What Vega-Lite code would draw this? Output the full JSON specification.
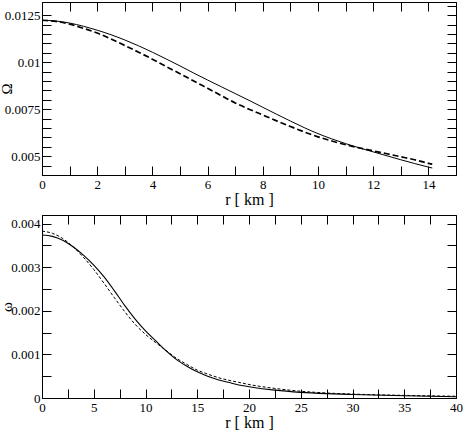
{
  "$schema": "https://vega.github.io/schema/vega-lite/v6.json",
  "padding": {"left": -2, "top": 1, "right": 6, "bottom": 2},
  "datasets": {
    "big": [
      {"s": "a", "r": 0, "v": 0.01223}, {"s": "a", "r": 0.5, "v": 0.01219}, {"s": "a", "r": 1, "v": 0.01208}, {"s": "a", "r": 1.5, "v": 0.01191},
      {"s": "a", "r": 2, "v": 0.0117}, {"s": "a", "r": 2.5, "v": 0.01146}, {"s": "a", "r": 3, "v": 0.01118}, {"s": "a", "r": 3.5, "v": 0.01087},
      {"s": "a", "r": 4, "v": 0.01053}, {"s": "a", "r": 4.5, "v": 0.01017}, {"s": "a", "r": 5, "v": 0.0098}, {"s": "a", "r": 5.5, "v": 0.00942},
      {"s": "a", "r": 6, "v": 0.00905}, {"s": "a", "r": 6.5, "v": 0.00869}, {"s": "a", "r": 7, "v": 0.00833}, {"s": "a", "r": 7.5, "v": 0.00797},
      {"s": "a", "r": 8, "v": 0.0076}, {"s": "a", "r": 8.5, "v": 0.00723}, {"s": "a", "r": 9, "v": 0.00687}, {"s": "a", "r": 9.5, "v": 0.00652},
      {"s": "a", "r": 10, "v": 0.0062}, {"s": "a", "r": 10.5, "v": 0.00592}, {"s": "a", "r": 11, "v": 0.00567}, {"s": "a", "r": 11.5, "v": 0.00544},
      {"s": "a", "r": 12, "v": 0.00523}, {"s": "a", "r": 12.5, "v": 0.00502}, {"s": "a", "r": 13, "v": 0.00481}, {"s": "a", "r": 13.5, "v": 0.00461},
      {"s": "a", "r": 14, "v": 0.00442}, {"s": "a", "r": 14.14, "v": 0.00437},
      {"s": "b", "r": 0, "v": 0.01223}, {"s": "b", "r": 0.5, "v": 0.01217}, {"s": "b", "r": 1, "v": 0.01202}, {"s": "b", "r": 1.5, "v": 0.0118},
      {"s": "b", "r": 2, "v": 0.01155}, {"s": "b", "r": 2.5, "v": 0.01123}, {"s": "b", "r": 3, "v": 0.01089}, {"s": "b", "r": 3.5, "v": 0.01053},
      {"s": "b", "r": 4, "v": 0.01016}, {"s": "b", "r": 4.5, "v": 0.00977}, {"s": "b", "r": 5, "v": 0.00939}, {"s": "b", "r": 5.5, "v": 0.009},
      {"s": "b", "r": 6, "v": 0.00861}, {"s": "b", "r": 6.5, "v": 0.00822}, {"s": "b", "r": 7, "v": 0.00783}, {"s": "b", "r": 7.5, "v": 0.0075},
      {"s": "b", "r": 8, "v": 0.00719}, {"s": "b", "r": 8.5, "v": 0.00688}, {"s": "b", "r": 9, "v": 0.00658}, {"s": "b", "r": 9.5, "v": 0.00629},
      {"s": "b", "r": 10, "v": 0.00603}, {"s": "b", "r": 10.5, "v": 0.00581}, {"s": "b", "r": 11, "v": 0.00561}, {"s": "b", "r": 11.5, "v": 0.00544},
      {"s": "b", "r": 12, "v": 0.00528}, {"s": "b", "r": 12.5, "v": 0.00513}, {"s": "b", "r": 13, "v": 0.00497}, {"s": "b", "r": 13.5, "v": 0.00481},
      {"s": "b", "r": 14, "v": 0.00462}, {"s": "b", "r": 14.14, "v": 0.00457}
    ],
    "small": [
      {"s": "a", "r": 0, "v": 0.00374}, {"s": "a", "r": 1, "v": 0.00371}, {"s": "a", "r": 2, "v": 0.00362}, {"s": "a", "r": 3, "v": 0.00347},
      {"s": "a", "r": 4, "v": 0.00328}, {"s": "a", "r": 5, "v": 0.00305}, {"s": "a", "r": 6, "v": 0.00278}, {"s": "a", "r": 7, "v": 0.00246},
      {"s": "a", "r": 8, "v": 0.00212}, {"s": "a", "r": 9, "v": 0.00181}, {"s": "a", "r": 10, "v": 0.00154}, {"s": "a", "r": 11, "v": 0.00131},
      {"s": "a", "r": 12, "v": 0.00108}, {"s": "a", "r": 13, "v": 0.00088}, {"s": "a", "r": 14, "v": 0.00073}, {"s": "a", "r": 15, "v": 0.0006},
      {"s": "a", "r": 16, "v": 0.0005}, {"s": "a", "r": 17, "v": 0.00042}, {"s": "a", "r": 18, "v": 0.00036}, {"s": "a", "r": 19, "v": 0.0003},
      {"s": "a", "r": 20, "v": 0.00026}, {"s": "a", "r": 22.5, "v": 0.00018}, {"s": "a", "r": 25, "v": 0.00013}, {"s": "a", "r": 27.5, "v": 0.0001},
      {"s": "a", "r": 30, "v": 0.00008}, {"s": "a", "r": 35, "v": 0.00005}, {"s": "a", "r": 40, "v": 0.00003},
      {"s": "b", "r": 0, "v": 0.00383}, {"s": "b", "r": 1, "v": 0.00378}, {"s": "b", "r": 2, "v": 0.00366}, {"s": "b", "r": 3, "v": 0.00347},
      {"s": "b", "r": 4, "v": 0.00323}, {"s": "b", "r": 5, "v": 0.00295}, {"s": "b", "r": 6, "v": 0.00263}, {"s": "b", "r": 7, "v": 0.0023},
      {"s": "b", "r": 8, "v": 0.00198}, {"s": "b", "r": 9, "v": 0.00169}, {"s": "b", "r": 10, "v": 0.00146}, {"s": "b", "r": 11, "v": 0.00127},
      {"s": "b", "r": 12, "v": 0.00109}, {"s": "b", "r": 13, "v": 0.00091}, {"s": "b", "r": 14, "v": 0.00077}, {"s": "b", "r": 15, "v": 0.00064},
      {"s": "b", "r": 16, "v": 0.00055}, {"s": "b", "r": 17, "v": 0.00047}, {"s": "b", "r": 18, "v": 0.00041}, {"s": "b", "r": 19, "v": 0.00036},
      {"s": "b", "r": 20, "v": 0.00031}, {"s": "b", "r": 22.5, "v": 0.00022}, {"s": "b", "r": 25, "v": 0.000155}, {"s": "b", "r": 27.5, "v": 0.000115},
      {"s": "b", "r": 30, "v": 0.00009}, {"s": "b", "r": 35, "v": 0.00006}, {"s": "b", "r": 40, "v": 0.00004}
    ]
  },
  "bounds": "flush",
  "spacing": 40,
  "vconcat": [
    {
      "width": 414,
      "height": 173,
      "data": {"name": "big"},
      "layer": [
        {
          "transform": [{"filter": "datum.s === 'a'"}],
          "mark": {"type": "line", "color": "black", "strokeWidth": 1, "interpolate": "monotone"},
          "encoding": {
            "x": {"field": "r", "type": "quantitative", "scale": {"domain": [0, 15], "nice": false, "zero": false},
              "axis": {"orient": "bottom", "title": "r [ km ]", "values": [0,1,2,3,4,5,6,7,8,9,10,11,12,13,14],
                "labelExpr": "datum.value % 2 === 0 ? datum.label : ''", "labelPadding": 12,
                "titleY": 29.5, "titleBaseline": "alphabetic",
                "encode": {"ticks": {"update": {"y2": {"signal": "datum.value % 2 === 0 ? -9 : -4.5"}}}}}},
            "y": {"field": "v", "type": "quantitative", "scale": {"domain": [0.004, 0.0132], "nice": false, "zero": false},
              "axis": {"orient": "left", "title": "Ω", "titleX": -36, "titleY": 86.5, "titleBaseline": "middle", "titleFontSize": 15,
                "values": [0.0045,0.005,0.0055,0.006,0.0065,0.007,0.0075,0.008,0.0085,0.009,0.0095,0.01,0.0105,0.011,0.0115,0.012,0.0125],
                "labelExpr": "abs(datum.value/0.0025 - round(datum.value/0.0025)) < 1e-6 ? format(datum.value, '~g') : ''",
                "labelPadding": 11,
                "encode": {"ticks": {"update": {"x2": {"signal": "abs(datum.value/0.0025 - round(datum.value/0.0025)) < 1e-6 ? 9 : 4.5"}}}}}}
          }
        },
        {
          "transform": [{"filter": "datum.s === 'b'"}],
          "mark": {"type": "line", "color": "black", "strokeWidth": 1.7, "strokeDash": [6, 3], "interpolate": "monotone"},
          "encoding": {
            "x": {"field": "r", "type": "quantitative", "scale": {"domain": [0, 15], "nice": false, "zero": false},
              "axis": {"orient": "top", "title": null, "labels": false, "values": [1,2,3,4,5,6,7,8,9,10,11,12,13,14],
                "encode": {"ticks": {"update": {"y2": {"signal": "datum.value % 2 === 0 ? 9 : 4.5"}}}}}},
            "y": {"field": "v", "type": "quantitative", "scale": {"domain": [0.004, 0.0132], "nice": false, "zero": false},
              "axis": {"orient": "right", "title": null, "labels": false,
                "values": [0.0045,0.005,0.0055,0.006,0.0065,0.007,0.0075,0.008,0.0085,0.009,0.0095,0.01,0.0105,0.011,0.0115,0.012,0.0125,0.013],
                "encode": {"ticks": {"update": {"x2": {"signal": "abs(datum.value/0.0025 - round(datum.value/0.0025)) < 1e-6 ? -9 : -4.5"}}}}}}
          }
        }
      ],
      "resolve": {"axis": {"x": "independent", "y": "independent"}}
    },
    {
      "width": 414,
      "height": 183,
      "data": {"name": "small"},
      "layer": [
        {
          "transform": [{"filter": "datum.s === 'a'"}],
          "mark": {"type": "line", "color": "black", "strokeWidth": 1.1, "interpolate": "monotone"},
          "encoding": {
            "x": {"field": "r", "type": "quantitative", "scale": {"domain": [0, 40], "nice": false, "zero": false},
              "axis": {"orient": "bottom", "title": "r [ km ]", "values": [0,2.5,5,7.5,10,12.5,15,17.5,20,22.5,25,27.5,30,32.5,35,37.5,40],
                "labelExpr": "datum.value % 5 === 0 ? datum.label : ''", "labelPadding": 12,
                "titleY": 29.5, "titleBaseline": "alphabetic",
                "encode": {"ticks": {"update": {"y2": {"signal": "datum.value % 5 === 0 ? -9 : -4.5"}}}}}},
            "y": {"field": "v", "type": "quantitative", "scale": {"domain": [0, 0.0042], "nice": false, "zero": false},
              "axis": {"orient": "left", "title": "ω", "titleX": -36, "titleY": 91.5, "titleBaseline": "middle", "titleFontSize": 15,
                "values": [0,0.0005,0.001,0.0015,0.002,0.0025,0.003,0.0035,0.004],
                "labelExpr": "abs(datum.value*1000 - round(datum.value*1000)) < 1e-6 ? format(datum.value, '~g') : ''",
                "labelPadding": 11,
                "encode": {"ticks": {"update": {"x2": {"signal": "abs(datum.value*1000 - round(datum.value*1000)) < 1e-6 ? 9 : 4.5"}}}}}}
          }
        },
        {
          "transform": [{"filter": "datum.s === 'b'"}],
          "mark": {"type": "line", "color": "black", "strokeWidth": 1, "strokeDash": [3, 2], "interpolate": "monotone"},
          "encoding": {
            "x": {"field": "r", "type": "quantitative", "scale": {"domain": [0, 40], "nice": false, "zero": false},
              "axis": {"orient": "top", "title": null, "labels": false, "values": [2.5,5,7.5,10,12.5,15,17.5,20,22.5,25,27.5,30,32.5,35,37.5],
                "encode": {"ticks": {"update": {"y2": {"signal": "datum.value % 5 === 0 ? 9 : 4.5"}}}}}},
            "y": {"field": "v", "type": "quantitative", "scale": {"domain": [0, 0.0042], "nice": false, "zero": false},
              "axis": {"orient": "right", "title": null, "labels": false,
                "values": [0.0005,0.001,0.0015,0.002,0.0025,0.003,0.0035,0.004],
                "encode": {"ticks": {"update": {"x2": {"signal": "abs(datum.value*1000 - round(datum.value*1000)) < 1e-6 ? -9 : -4.5"}}}}}}
          }
        }
      ],
      "resolve": {"axis": {"x": "independent", "y": "independent"}}
    }
  ],
  "config": {
    "font": "Liberation Serif",
    "view": {"stroke": "black", "strokeWidth": 1},
    "axis": {
      "labelFont": "Liberation Serif", "titleFont": "Liberation Serif",
      "labelFontSize": 13, "titleFontSize": 16, "titleFontWeight": "normal",
      "labelColor": "black", "titleColor": "black",
      "domainColor": "black", "domainWidth": 1, "tickColor": "black", "tickWidth": 1,
      "ticks": true, "tickSize": -9, "grid": false, "labelOverlap": false, "labelFlush": false
    }
  }
}
